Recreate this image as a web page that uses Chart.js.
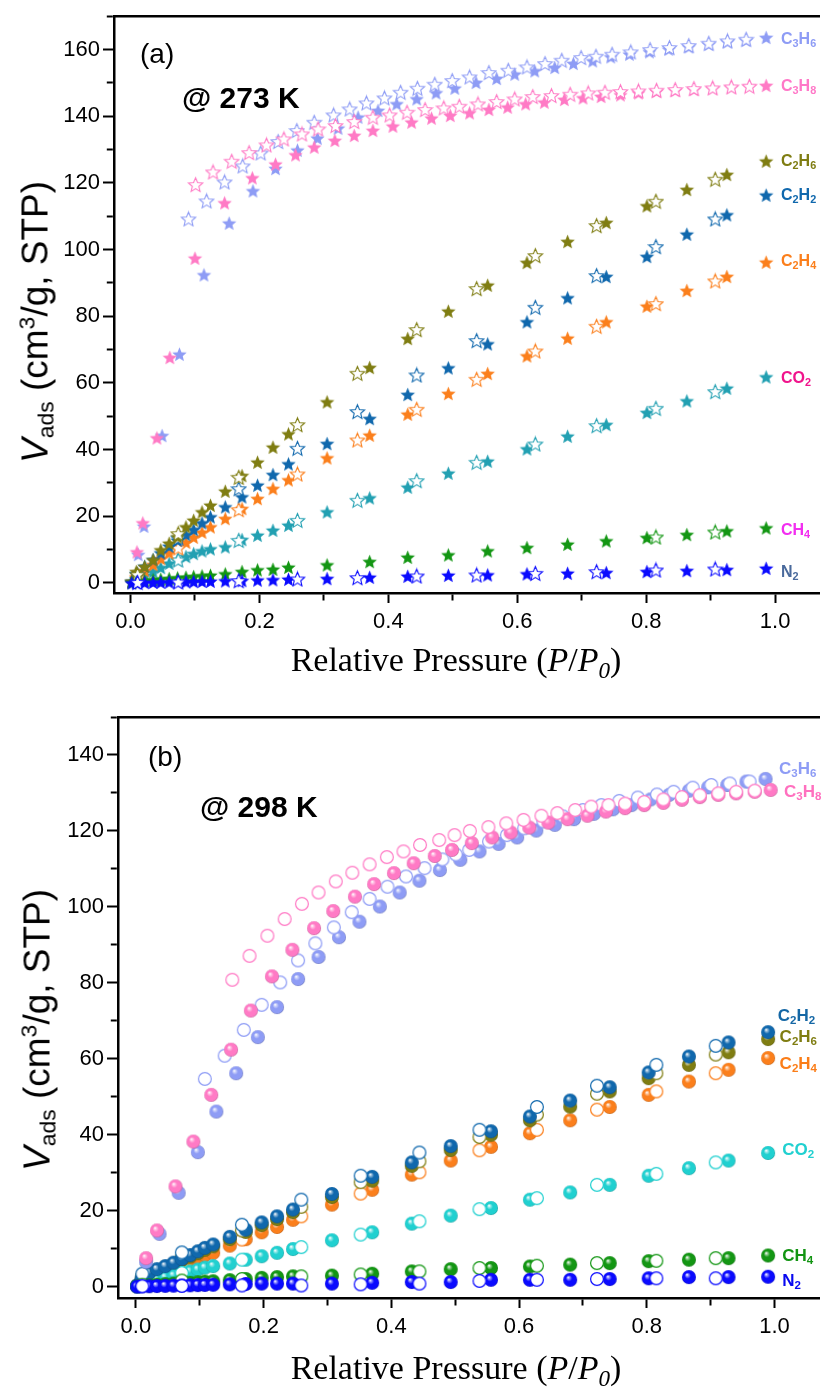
<!DOCTYPE html>
<html>
<head>
<meta charset="utf-8">
<script src="https://cdn.jsdelivr.net/npm/chart.js"></script>
<style>
  body { margin: 0; background: #fff; }
  #wrap { position: relative; width: 827px; height: 1387px; overflow: hidden; background: #fff; }
  #wrap canvas { position: absolute; left: 0; }
  .txt { position: absolute; white-space: nowrap; font-family: Arial, "Liberation Sans", sans-serif; line-height: 1; color: #000; }
  .lab { position: absolute; white-space: nowrap; font-family: Arial, "Liberation Sans", sans-serif; font-weight: bold; font-size: 16px; line-height: 1; transform: translateY(-50%); }
  .lab sub { font-size: 68%; vertical-align: -0.3em; line-height: 0; }
  .ytitle { position: absolute; white-space: nowrap; font-family: Arial, "Liberation Sans", sans-serif; font-size: 37px; line-height: 1; transform: translate(-50%, -50%) rotate(-90deg); }
  .ytitle sub { font-size: 62%; vertical-align: -0.25em; line-height: 0; }
  .ytitle sup { font-size: 62%; vertical-align: 0.55em; line-height: 0; }
  .xtitle { position: absolute; white-space: nowrap; font-family: "Times New Roman", "Liberation Serif", serif; font-size: 34px; line-height: 1; transform: translate(-50%, -50%); }
  .xtitle sub { font-size: 68%; vertical-align: -0.3em; line-height: 0; }
</style>
</head>
<body>
<div id="wrap">
  <canvas id="chartA" width="827" height="700" style="top:0;width:827px;height:700px"></canvas>
  <canvas id="chartB" width="827" height="687" style="top:700px;width:827px;height:687px"></canvas>
</div>
<script>
// ---------- (a) 273 K ----------
const P_ADS_273 = [0.002, 0.009, 0.022, 0.035, 0.047, 0.060, 0.073, 0.086, 0.098, 0.111, 0.124, 0.147, 0.173, 0.197, 0.221, 0.245, 0.305, 0.371, 0.430, 0.493, 0.554, 0.615, 0.678, 0.738, 0.801, 0.863, 0.925, 0.986];
const P_DES_273 = [0.907, 0.815, 0.723, 0.628, 0.537, 0.444, 0.352, 0.259, 0.168, 0.074, 0.011];

const C2H6_ADS_273 = [0.5, 3.4, 4.9, 6.9, 9.9, 11.9, 13.8, 16.8, 18.8, 21.3, 23.3, 27.5, 32.2, 36.2, 40.7, 44.7, 54.3, 64.6, 73.3, 81.5, 89.3, 96.1, 102.4, 108.1, 113.1, 118.0, 122.5, 126.5];
const C2H6_DES_273 = [121.1, 114.5, 107.2, 98.2, 88.3, 76.0, 62.9, 47.5, 31.7, 14.8, 2.5];
const C2H2_ADS_273 = [0.5, 2.8, 5.0, 7.0, 9.0, 11.0, 12.8, 14.5, 16.0, 18.0, 19.8, 22.8, 25.8, 29.3, 32.5, 35.7, 41.8, 49.3, 56.5, 64.5, 71.7, 78.3, 85.5, 91.9, 97.9, 104.6, 110.4, 116.3];
const C2H2_DES_273 = [109.2, 100.9, 92.2, 82.7, 72.7, 62.4, 51.4, 40.4, 28.3, 13.5, 2.5];
const C2H4_ADS_273 = [0.3, 1.8, 3.7, 5.5, 7.3, 9.0, 10.7, 12.2, 13.7, 15.2, 16.8, 19.3, 22.3, 25.3, 28.3, 30.9, 37.5, 44.3, 50.6, 56.8, 62.8, 68.1, 73.4, 78.3, 83.0, 87.7, 91.9, 96.2];
const C2H4_DES_273 = [90.6, 83.8, 77.0, 69.6, 61.1, 52.1, 42.9, 32.7, 22.0, 10.5, 1.5];
const CO2_ADS_273 = [0.3, 1.2, 2.3, 3.4, 4.6, 5.9, 6.9, 7.9, 8.8, 9.6, 10.2, 10.8, 13.0, 14.3, 15.8, 17.3, 21.3, 25.5, 28.7, 32.9, 36.5, 40.2, 44.0, 47.5, 51.1, 54.6, 58.4, 61.8];
const CO2_DES_273 = [57.4, 52.4, 47.2, 41.7, 36.2, 30.7, 24.8, 18.8, 12.8, 6.9, 1.0];
const CH4_ADS_273 = [0.1, 0.3, 0.6, 0.9, 1.1, 1.3, 1.5, 1.7, 1.9, 2.1, 2.3, 2.7, 3.4, 3.9, 4.1, 4.7, 5.4, 6.4, 7.7, 8.4, 9.6, 10.6, 11.6, 12.6, 13.6, 14.5, 15.6, 16.5];
const CH4_DES_273 = [15.3, 13.8, null, null, null, null, null, null, null, null, null];
const N2_ADS_273 = [0.0, 0.05, 0.1, 0.15, 0.2, 0.25, 0.3, 0.35, 0.4, 0.45, 0.5, 0.6, 0.7, 0.85, 0.95, 1.1, 1.3, 1.7, 2.0, 2.3, 2.4, 2.7, 2.9, 3.1, 3.4, 3.7, 4.0, 4.4];
const N2_DES_273 = [4.2, 3.9, 3.4, 2.9, 2.4, 2.1, 1.6, 1.2, 0.7, 0.3, 0.2];

const C3H6_ADS_P_273 = [0.012, 0.021, 0.049, 0.076, 0.114, 0.153, 0.190, 0.225, 0.259, 0.290, 0.322, 0.353, 0.384, 0.413, 0.444, 0.474, 0.503, 0.536, 0.568, 0.596, 0.627, 0.658, 0.687, 0.717, 0.745, 0.774, 0.805, 0.835, 0.866, 0.897, 0.926, 0.955, 0.986];
const C3H6_ADS_273 = [8.5, 17.0, 44.2, 68.6, 92.4, 107.9, 117.6, 124.3, 129.8, 133.4, 136.4, 139.7, 141.7, 143.7, 145.2, 147.0, 148.4, 150.1, 151.3, 152.6, 153.6, 154.6, 155.8, 156.6, 157.8, 158.6, 159.3, 160.1, 160.8, 161.6, 162.3, 162.8, 163.6];
const C3H6_DES_P_273 = [0.955, 0.926, 0.897, 0.866, 0.836, 0.806, 0.776, 0.747, 0.722, 0.699, 0.669, 0.643, 0.615, 0.586, 0.556, 0.526, 0.499, 0.472, 0.445, 0.419, 0.394, 0.366, 0.340, 0.315, 0.285, 0.258, 0.229, 0.202, 0.174, 0.146, 0.118, 0.090];
const C3H6_DES_273 = [163.1, 162.6, 161.9, 161.2, 160.6, 160.0, 159.3, 158.6, 158.0, 157.6, 156.8, 155.8, 154.8, 153.8, 153.1, 151.8, 150.7, 149.6, 148.4, 147.2, 145.5, 144.0, 142.2, 140.4, 138.2, 135.7, 132.4, 129.0, 125.1, 120.3, 114.6, 109.2];
const C3H8_ADS_P_273 = [0.010, 0.019, 0.041, 0.061, 0.100, 0.146, 0.189, 0.225, 0.256, 0.285, 0.317, 0.347, 0.376, 0.407, 0.436, 0.467, 0.496, 0.526, 0.556, 0.585, 0.613, 0.642, 0.673, 0.702, 0.730, 0.760, 0.788, 0.816, 0.845, 0.874, 0.903, 0.932, 0.960, 0.986];
const C3H8_ADS_273 = [9.3, 18.0, 43.5, 67.6, 97.4, 114.0, 121.5, 125.6, 128.4, 130.7, 132.7, 134.2, 135.7, 137.0, 138.2, 139.4, 140.2, 141.0, 142.0, 142.7, 143.7, 144.2, 145.0, 145.5, 145.9, 146.4, 147.0, 147.4, 147.7, 148.0, 148.4, 148.7, 149.0, 149.2];
const C3H8_DES_P_273 = [0.960, 0.932, 0.903, 0.874, 0.845, 0.816, 0.788, 0.760, 0.736, 0.710, 0.682, 0.653, 0.624, 0.596, 0.568, 0.539, 0.510, 0.486, 0.457, 0.429, 0.402, 0.376, 0.347, 0.318, 0.291, 0.266, 0.238, 0.211, 0.184, 0.157, 0.128, 0.101];
const C3H8_DES_273 = [149.0, 148.8, 148.5, 148.3, 148.0, 147.8, 147.6, 147.4, 147.2, 147.0, 146.6, 146.2, 145.9, 145.2, 144.4, 143.7, 143.0, 142.5, 142.0, 141.2, 140.4, 139.7, 138.4, 137.2, 136.2, 134.7, 133.2, 131.4, 129.1, 126.5, 123.3, 119.5];

// ---------- (b) 298 K ----------
const P_ADS_298 = [0.002, 0.009, 0.021, 0.033, 0.046, 0.059, 0.072, 0.085, 0.097, 0.108, 0.121, 0.147, 0.172, 0.197, 0.221, 0.246, 0.307, 0.370, 0.432, 0.493, 0.556, 0.617, 0.680, 0.742, 0.803, 0.866, 0.928, 0.990];
const P_DES_298 = [0.908, 0.815, 0.722, 0.628, 0.538, 0.444, 0.352, 0.259, 0.166, 0.072, 0.010];

const C2H2_ADS_298 = [0.3, 2.2, 3.6, 4.6, 5.4, 6.3, 7.3, 8.3, 9.3, 10.2, 11.1, 13.1, 15.0, 16.9, 18.5, 20.3, 24.4, 28.9, 32.7, 37.0, 40.9, 44.8, 49.0, 52.5, 56.4, 60.6, 64.3, 67.0];
const C2H2_DES_298 = [63.4, 58.4, 52.9, 47.3, 41.3, 35.3, 29.2, 22.9, 16.3, 9.0, 3.4];
const C2H6_ADS_298 = [0.2, 1.8, 3.2, 4.1, 5.0, 5.9, 6.9, 7.9, 8.8, 9.7, 10.6, 12.5, 14.4, 16.2, 17.8, 19.6, 23.6, 27.9, 31.8, 36.0, 40.0, 43.8, 47.4, 51.4, 54.9, 58.4, 61.7, 65.2];
const C2H6_DES_298 = [61.1, 56.2, 50.8, 45.3, 39.4, 33.0, 27.5, 21.0, 14.8, 7.8, 2.8];
const C2H4_ADS_298 = [0.2, 1.2, 2.2, 3.2, 4.1, 5.0, 5.9, 6.8, 7.6, 8.3, 8.9, 10.8, 12.5, 14.3, 15.7, 17.6, 21.6, 25.5, 29.5, 33.2, 36.8, 40.4, 43.8, 47.3, 50.5, 54.0, 57.1, 60.2];
const C2H4_DES_298 = [56.2, 51.4, 46.6, 41.3, 35.9, 30.1, 24.5, 18.5, 12.4, 5.8, 1.2];
const CO2_ADS_298 = [0.1, 0.8, 1.3, 1.8, 2.4, 2.9, 3.5, 4.0, 4.5, 5.0, 5.4, 6.1, 7.1, 8.0, 8.9, 9.9, 12.2, 14.3, 16.6, 18.7, 20.7, 22.9, 24.8, 26.8, 29.2, 31.2, 33.2, 35.2];
const CO2_DES_298 = [32.7, 29.7, 26.8, 23.3, 20.4, 17.2, 13.7, 10.4, 7.1, 3.6, 0.8];
const CH4_ADS_298 = [0.05, 0.2, 0.35, 0.5, 0.65, 0.8, 0.9, 1.0, 1.15, 1.3, 1.4, 1.7, 2.0, 2.3, 2.5, 2.7, 2.9, 3.4, 4.0, 4.6, 4.9, 5.3, 5.8, 6.2, 6.7, 7.1, 7.5, 8.2];
const CH4_DES_298 = [7.5, 6.8, 6.2, 5.5, 4.9, 4.0, 3.2, 2.7, 2.0, 1.6, 0.5];
const N2_ADS_298 = [0.0, 0.05, 0.1, 0.15, 0.2, 0.25, 0.3, 0.35, 0.4, 0.45, 0.5, 0.6, 0.7, 0.8, 0.8, 0.8, 0.8, 1.0, 1.2, 1.2, 1.8, 1.8, 1.8, 2.0, 2.2, 2.5, 2.5, 2.6];
const N2_DES_298 = [2.2, 2.2, 2.0, 1.8, 1.5, 0.8, 0.6, 0.3, 0.3, 0.2, 0.1];

const C3H6_ADS_P_298 = [0.016, 0.037, 0.067, 0.097, 0.126, 0.157, 0.191, 0.221, 0.254, 0.286, 0.318, 0.350, 0.382, 0.413, 0.444, 0.476, 0.508, 0.538, 0.568, 0.597, 0.627, 0.656, 0.686, 0.717, 0.747, 0.776, 0.806, 0.835, 0.866, 0.896, 0.926, 0.956, 0.986];
const C3H6_ADS_298 = [6.5, 13.9, 24.7, 35.4, 46.1, 56.2, 65.7, 73.6, 81.0, 86.8, 92.0, 96.1, 100.1, 103.8, 106.9, 109.7, 112.4, 114.6, 116.6, 118.3, 120.1, 121.6, 123.1, 124.5, 125.7, 126.8, 128.3, 129.5, 130.6, 131.5, 132.1, 133.0, 133.7];
const C3H6_DES_P_298 = [0.961, 0.930, 0.901, 0.872, 0.842, 0.816, 0.786, 0.757, 0.729, 0.700, 0.669, 0.638, 0.608, 0.581, 0.553, 0.522, 0.501, 0.480, 0.452, 0.423, 0.394, 0.366, 0.338, 0.310, 0.281, 0.254, 0.226, 0.197, 0.169, 0.139, 0.108];
const C3H6_DES_298 = [133.0, 132.5, 132.1, 131.4, 130.3, 129.6, 128.8, 127.9, 126.8, 125.5, 123.8, 122.5, 120.7, 118.9, 117.2, 115.0, 113.8, 112.5, 110.2, 108.0, 105.3, 102.1, 98.6, 94.6, 90.4, 85.9, 80.1, 74.2, 67.6, 60.8, 54.7];
const C3H8_ADS_P_298 = [0.016, 0.033, 0.062, 0.090, 0.118, 0.149, 0.180, 0.213, 0.245, 0.279, 0.309, 0.343, 0.373, 0.404, 0.435, 0.468, 0.495, 0.526, 0.558, 0.587, 0.616, 0.646, 0.676, 0.707, 0.736, 0.766, 0.796, 0.826, 0.855, 0.883, 0.912, 0.940, 0.969, 0.994];
const C3H8_ADS_298 = [7.5, 14.8, 26.4, 38.2, 50.5, 62.4, 72.7, 81.7, 88.7, 94.4, 98.9, 102.7, 106.0, 108.9, 111.5, 113.4, 115.0, 116.8, 118.3, 119.6, 120.9, 122.2, 123.1, 124.0, 125.1, 126.0, 126.8, 127.4, 128.2, 128.9, 129.5, 129.9, 130.3, 130.8];
const C3H8_DES_P_298 = [0.969, 0.940, 0.912, 0.883, 0.855, 0.826, 0.796, 0.766, 0.740, 0.713, 0.688, 0.660, 0.635, 0.607, 0.580, 0.552, 0.523, 0.499, 0.475, 0.445, 0.419, 0.393, 0.366, 0.339, 0.313, 0.286, 0.260, 0.233, 0.206, 0.178, 0.151];
const C3H8_DES_298 = [130.6, 130.3, 129.9, 129.4, 128.9, 128.3, 127.6, 127.2, 126.8, 126.4, 125.5, 124.7, 124.0, 122.9, 122.0, 121.0, 120.0, 118.9, 117.6, 116.3, 114.6, 113.1, 111.2, 109.0, 106.7, 103.8, 100.8, 96.8, 92.4, 87.1, 80.8];

// series labels (right side)
const GASES_273 = ['C3H6', 'C3H8', 'C2H6', 'C2H2', 'C2H4', 'CO2', 'CH4', 'N2'];
const LABEL_Y_273 = [163.3, 149.2, 126.5, 116.5, 96.6, 61.4, 15.8, 3.4];
const LABEL_COLORS_273 = ['#8e9cf5', '#ff78c8', '#7f7d12', '#1068ad', '#fb7f1c', '#f0148c', '#f22ef0', '#4a6a9c'];
const GASES_298 = ['C3H6', 'C3H8', 'C2H2', 'C2H6', 'C2H4', 'CO2', 'CH4', 'N2'];
const LABEL_Y_298 = [136.5, 130.6, 71.6, 66.1, 58.9, 36.2, 8.4, 1.8];
const LABEL_X_298 = [1.007, 1.015, 1.005, 1.008, 1.008, 1.012, 1.012, 1.012];
const LABEL_COLORS_298 = ['#8e9cf5', '#ff70bf', '#1467a5', '#7f7d12', '#fb7d18', '#20d0d0', '#129412', '#0808f0'];

// marker colours
const COL = {
  C3H6: '#8e9cf5', C3H8: '#ff7ac5', C2H6: '#7f7d12', C2H2: '#1068ad',
  C2H4: '#fb7f1c', CO2a: '#22a0b2', CO2b: '#20d0d0', CH4: '#139613', N2: '#0a0aff'
};

// ---------- marker images ----------
function hexRgb(h) { const n = parseInt(h.slice(1), 16); return [(n >> 16) & 255, (n >> 8) & 255, n & 255]; }
function mix(h, t, f) { const a = hexRgb(h), b = hexRgb(t); return 'rgb(' + a.map((v, i) => Math.round(v + (b[i] - v) * f)).join(',') + ')'; }

function starImg(color, filled) {
  const s = 17, c = document.createElement('canvas');
  c.width = c.height = s;
  const g = c.getContext('2d');
  const cx = s / 2, cy = s / 2 + 0.7, R = 7.6, r = R * 0.45;
  g.beginPath();
  for (let k = 0; k < 10; k++) {
    const a = -Math.PI / 2 + k * Math.PI / 5, rr = k % 2 ? r : R;
    g.lineTo(cx + rr * Math.cos(a), cy + rr * Math.sin(a));
  }
  g.closePath();
  if (filled) { g.fillStyle = color; g.fill(); }
  else { g.fillStyle = '#fff'; g.fill(); g.lineWidth = 1.1; g.strokeStyle = color; g.stroke(); }
  return c;
}

function ballImg(color, filled) {
  const s = 16, c = document.createElement('canvas');
  c.width = c.height = s;
  const g = c.getContext('2d');
  const cx = s / 2, cy = s / 2;
  g.beginPath();
  if (filled) {
    g.arc(cx, cy, 7, 0, Math.PI * 2);
    const gr = g.createRadialGradient(cx - 2, cy - 2.5, 0.2, cx, cy, 7.2);
    gr.addColorStop(0, '#ffffff');
    gr.addColorStop(0.16, mix(color, '#ffffff', 0.55));
    gr.addColorStop(0.42, color);
    gr.addColorStop(0.85, color);
    gr.addColorStop(1, mix(color, '#000000', 0.25));
    g.fillStyle = gr; g.fill();
  } else {
    g.arc(cx, cy, 6.4, 0, Math.PI * 2);
    g.fillStyle = '#fff'; g.fill();
    g.lineWidth = 1.2; g.strokeStyle = color; g.stroke();
  }
  return c;
}

function pts(xs, ys) {
  return xs.map((x, i) => ({ x: x, y: ys[i] })).filter(p => p.y !== null);
}

// series listed bottom -> top; adsorption filled, desorption open
function buildSets(list, shape) {
  const sets = [];
  list.forEach(s => {
    sets.push({ data: pts(s[0], s[1]), pointStyle: shape(s[4], true) });
    sets.push({ data: pts(s[2], s[3]), pointStyle: shape(s[4], false) });
  });
  return sets.map((d, i) => Object.assign(d, {
    showLine: false, pointRadius: 7, pointHoverRadius: 7, order: 1000 - i
  }));
}

const SERIES_273 = [
  [P_ADS_273, CO2_ADS_273, P_DES_273, CO2_DES_273, COL.CO2a],
  [P_ADS_273, C2H4_ADS_273, P_DES_273, C2H4_DES_273, COL.C2H4],
  [P_ADS_273, C2H2_ADS_273, P_DES_273, C2H2_DES_273, COL.C2H2],
  [P_ADS_273, C2H6_ADS_273, P_DES_273, C2H6_DES_273, COL.C2H6],
  [P_ADS_273, CH4_ADS_273, P_DES_273, CH4_DES_273, COL.CH4],
  [P_ADS_273, N2_ADS_273, P_DES_273, N2_DES_273, COL.N2],
  [C3H6_ADS_P_273, C3H6_ADS_273, C3H6_DES_P_273, C3H6_DES_273, COL.C3H6],
  [C3H8_ADS_P_273, C3H8_ADS_273, C3H8_DES_P_273, C3H8_DES_273, COL.C3H8]
];
const SERIES_298 = [
  [P_ADS_298, C2H4_ADS_298, P_DES_298, C2H4_DES_298, COL.C2H4],
  [P_ADS_298, C2H6_ADS_298, P_DES_298, C2H6_DES_298, COL.C2H6],
  [P_ADS_298, CO2_ADS_298, P_DES_298, CO2_DES_298, COL.CO2b],
  [P_ADS_298, C2H2_ADS_298, P_DES_298, C2H2_DES_298, COL.C2H2],
  [P_ADS_298, CH4_ADS_298, P_DES_298, CH4_DES_298, COL.CH4],
  [P_ADS_298, N2_ADS_298, P_DES_298, N2_DES_298, COL.N2],
  [C3H6_ADS_P_298, C3H6_ADS_298, C3H6_DES_P_298, C3H6_DES_298, COL.C3H6],
  [C3H8_ADS_P_298, C3H8_ADS_298, C3H8_DES_P_298, C3H8_DES_298, COL.C3H8]
];

const FONT = 'Arial, "Liberation Sans", sans-serif';

function makeOptions(o) {
  const minorX = ctx => ctx.tick && Math.round(ctx.tick.value * 10) % 2 !== 0;
  const minorY = ctx => ctx.tick && Math.round(ctx.tick.value) % 20 !== 0;
  return {
    responsive: false,
    animation: false,
    events: [],
    layout: { padding: { left: 0, right: 0, top: o.top, bottom: o.bottom } },
    plugins: { legend: { display: false }, tooltip: { enabled: false } },
    scales: {
      x: {
        type: 'linear', position: 'bottom', min: o.xmin, max: o.xmax,
        afterFit: s => { s.height = 45; },
        border: { color: '#000', width: 2.5 },
        grid: {
          drawOnChartArea: false, drawTicks: true, tickLength: 10, tickWidth: 2, tickColor: '#000',
          tickBorderDash: ctx => minorX(ctx) ? [6, 20] : [],
          tickBorderDashOffset: 0
        },
        ticks: {
          stepSize: 0.1, autoSkip: false, maxRotation: 0, includeBounds: false, padding: 6,
          color: '#000', font: { family: FONT, size: 22 },
          callback: v => Math.round(v * 10) % 2 === 0 ? v.toFixed(1) : ''
        }
      },
      x2: {
        type: 'linear', position: 'top', min: o.xmin, max: o.xmax,
        afterFit: s => { s.height = 0; },
        border: { color: '#000', width: 2.5 },
        grid: { drawOnChartArea: false, drawTicks: false },
        ticks: { display: false }
      },
      y: {
        type: 'linear', position: 'left', min: o.ymin, max: o.ymax,
        afterFit: s => { s.width = o.left; },
        border: { color: '#000', width: 2.5 },
        grid: {
          drawOnChartArea: false, drawTicks: true, tickLength: 11, tickWidth: 2, tickColor: '#000',
          tickBorderDash: ctx => minorY(ctx) ? [6, 3.8] : [],
          tickBorderDashOffset: ctx => minorY(ctx) ? 6 : 0
        },
        ticks: {
          stepSize: 10, autoSkip: false, includeBounds: false, padding: 3,
          color: '#000', font: { family: FONT, size: 22 },
          callback: v => Math.round(v) % 20 === 0 ? String(v) : ''
        }
      }
    }
  };
}

const chartA = new Chart(document.getElementById('chartA'), {
  type: 'scatter',
  data: { datasets: buildSets(SERIES_273, starImg) },
  options: makeOptions({ top: 13, bottom: 62, left: 114, xmin: -0.0256, xmax: 1.068, ymin: -3, ymax: 170 })
});

const chartB = new Chart(document.getElementById('chartB'), {
  type: 'scatter',
  data: { datasets: buildSets(SERIES_298, ballImg) },
  options: makeOptions({ top: 17, bottom: 44, left: 118, xmin: -0.028, xmax: 1.0697, ymin: -3, ymax: 150 })
});

// ---------- text ----------
const wrap = document.getElementById('wrap');
function addText(cls, html, left, top, style) {
  const d = document.createElement('div');
  d.className = cls;
  d.innerHTML = html;
  d.style.left = left + 'px';
  d.style.top = top + 'px';
  if (style) Object.assign(d.style, style);
  wrap.appendChild(d);
  return d;
}
function formula(g) { return g.replace(/(\d)/g, '<sub>$1</sub>'); }

function placeLabels(chart, offsetTop, gases, xs, ys, colors, size) {
  gases.forEach((g, i) => {
    const px = chart.scales.x.getPixelForValue(xs[i]);
    const py = offsetTop + chart.scales.y.getPixelForValue(ys[i]);
    addText('lab', formula(g), px, py, { color: colors[i], fontSize: size + 'px' });
  });
}
placeLabels(chartA, 0, GASES_273, GASES_273.map(() => 1.009), LABEL_Y_273, LABEL_COLORS_273, 16);
placeLabels(chartB, 700, GASES_298, LABEL_X_298, LABEL_Y_298, LABEL_COLORS_298, 17);

const ytitle = '<i>V</i><sub>ads</sub> (cm<sup>3</sup>/g, STP)';
const xtitle = 'Relative Pressure (<i>P</i>/<i>P<sub>0</sub></i>)';

addText('txt', '(a)', 140, 40, { fontSize: '28px' });
addText('txt', '@ 273 K', 182, 83, { fontSize: '30px', fontWeight: 'bold' });
addText('ytitle', ytitle, 35, 322);
addText('xtitle', xtitle, 456, 660);

addText('txt', '(b)', 148, 743, { fontSize: '28px' });
addText('txt', '@ 298 K', 200, 792, { fontSize: '30px', fontWeight: 'bold' });
addText('ytitle', ytitle, 37, 1030);
addText('xtitle', xtitle, 456, 1368);
</script>
</body>
</html>
